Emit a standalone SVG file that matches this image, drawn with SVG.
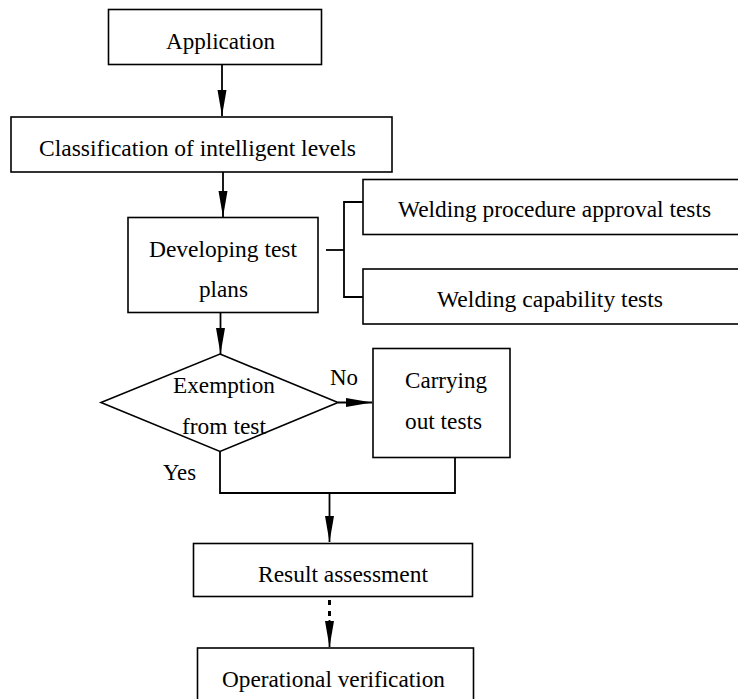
<svg xmlns="http://www.w3.org/2000/svg" width="738" height="699" viewBox="0 0 738 699">
<style>
.box{fill:#fff;stroke:#000;stroke-width:1.6}
.ln{fill:none;stroke:#000;stroke-width:1.8}
.dash{fill:none;stroke:#000;stroke-width:3;stroke-dasharray:5 6}
text{font-family:"Liberation Serif","Times New Roman",serif;font-size:24px;fill:#000}
</style>
<defs>
<marker id="ah" markerUnits="userSpaceOnUse" markerWidth="27" markerHeight="10" refX="26" refY="4.5" orient="auto">
<path d="M0,0 L26,4.5 L0,9 z" fill="#000"/>
</marker>
</defs>
<g id="connectors">
<line class="ln" x1="222" y1="64" x2="222" y2="116" marker-end="url(#ah)"/>
<line class="ln" x1="223" y1="172" x2="223" y2="217" marker-end="url(#ah)"/>
<line class="ln" x1="220.5" y1="313" x2="220.5" y2="354" marker-end="url(#ah)"/>
<polyline class="ln" points="326,250 344,250"/>
<polyline class="ln" points="363,202 344,202 344,297 363,297"/>
<line class="ln" x1="338" y1="402.5" x2="372" y2="402.5" marker-end="url(#ah)"/>
<polyline class="ln" points="220,451.5 220,493 455,493 455,458"/>
<line class="ln" x1="329.5" y1="493" x2="329.5" y2="542" marker-end="url(#ah)"/>
<line class="dash" x1="329.5" y1="600" x2="329.5" y2="622"/>
<line class="ln" x1="329.5" y1="620" x2="329.5" y2="647" marker-end="url(#ah)" stroke-width="1"/>
</g>
<g id="application">
<rect class="box" x="108.5" y="9.5" width="213" height="55"/>
<text x="166" y="49" textLength="109" lengthAdjust="spacingAndGlyphs">Application</text>
</g>
<g id="classification">
<rect class="box" x="11" y="117" width="381" height="55"/>
<text x="39" y="156" textLength="317" lengthAdjust="spacingAndGlyphs">Classification of intelligent levels</text>
</g>
<g id="developing">
<rect class="box" x="128" y="217.5" width="190" height="95"/>
<text x="149" y="257" textLength="148" lengthAdjust="spacingAndGlyphs">Developing test</text>
<text x="199" y="297" textLength="49" lengthAdjust="spacingAndGlyphs">plans</text>
</g>
<g id="wpat">
<rect class="box" x="363" y="179.5" width="390" height="55"/>
<text x="398" y="217" textLength="313" lengthAdjust="spacingAndGlyphs">Welding procedure approval tests</text>
</g>
<g id="wct">
<rect class="box" x="363" y="269" width="390" height="55"/>
<text x="437" y="307" textLength="226" lengthAdjust="spacingAndGlyphs">Welding capability tests</text>
</g>
<g id="exemption">
<polygon class="box" points="220,354 338,402.5 220,451.5 101,402.5"/>
<text x="173" y="393" textLength="102" lengthAdjust="spacingAndGlyphs">Exemption</text>
<text x="182" y="434" textLength="84" lengthAdjust="spacingAndGlyphs">from test</text>
</g>
<g id="carrying">
<rect class="box" x="373" y="348.5" width="137" height="109"/>
<text x="405" y="388" textLength="82" lengthAdjust="spacingAndGlyphs">Carrying</text>
<text x="405" y="429" textLength="77" lengthAdjust="spacingAndGlyphs">out tests</text>
</g>
<g id="labels">
<text x="330" y="385" textLength="28" lengthAdjust="spacingAndGlyphs">No</text>
<text x="163" y="480" textLength="33" lengthAdjust="spacingAndGlyphs">Yes</text>
</g>
<g id="result">
<rect class="box" x="193.5" y="543.5" width="279" height="53"/>
<text x="258" y="582" textLength="170" lengthAdjust="spacingAndGlyphs">Result assessment</text>
</g>
<g id="operational">
<rect class="box" x="197.5" y="648" width="276" height="60"/>
<text x="222" y="687" textLength="223" lengthAdjust="spacingAndGlyphs">Operational verification</text>
</g>
</svg>
